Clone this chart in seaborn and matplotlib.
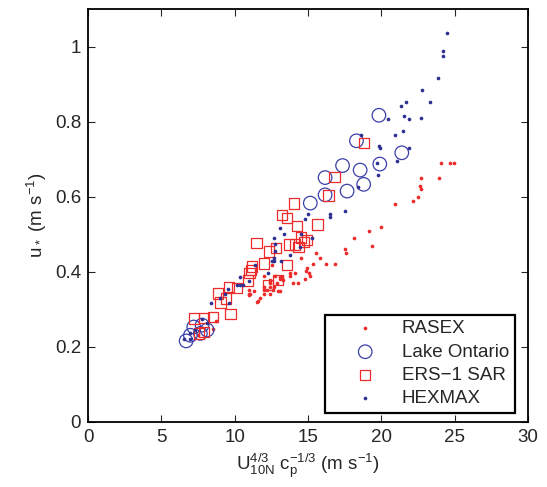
import numpy as np
import pandas as pd
import seaborn as sns
import matplotlib.pyplot as plt

# RASEX (red dots)
rasex_x = [24.08, 24.70, 24.97, 22.72, 23.92, 22.67, 22.72, 22.54, 22.19, 20.95,
           19.99, 19.13, 18.11, 19.38, 17.54, 17.59, 15.57, 15.84, 14.52, 16.25,
           16.86, 15.34, 14.93, 14.89, 15.07, 15.11, 14.82, 14.13, 13.75, 13.79,
           14.29, 13.95, 13.23, 13.11, 12.73, 11.98, 12.38, 13.30, 12.43, 13.11,
           12.89, 12.38, 11.98, 12.66, 12.38, 12.59, 12.93, 13.11, 11.98, 12.21,
           11.98, 12.38, 11.34, 10.95, 11.07, 11.00, 11.70, 11.59, 11.52, 8.75,
           8.53, 7.48, 12.55, 10.95]
rasex_y = [0.690, 0.690, 0.690, 0.650, 0.650, 0.629, 0.620, 0.599, 0.589, 0.580,
           0.520, 0.509, 0.489, 0.468, 0.460, 0.449, 0.449, 0.438, 0.438, 0.420,
           0.420, 0.420, 0.409, 0.403, 0.398, 0.389, 0.380, 0.398, 0.398, 0.389,
           0.369, 0.369, 0.387, 0.387, 0.389, 0.389, 0.376, 0.378, 0.378, 0.380,
           0.371, 0.371, 0.360, 0.360, 0.360, 0.351, 0.349, 0.349, 0.351, 0.351,
           0.341, 0.341, 0.349, 0.341, 0.341, 0.351, 0.329, 0.322, 0.319, 0.269,
           0.249, 0.231, 0.418, 0.338]

# Lake Ontario (open circles)
ontario_x = [19.84, 18.31, 21.40, 17.36, 18.56, 19.90, 16.17, 18.80, 17.67, 16.17,
             15.16, 7.21, 7.78, 8.12, 6.98, 6.69, 7.66]
ontario_y = [0.817, 0.749, 0.717, 0.683, 0.671, 0.687, 0.651, 0.633, 0.615, 0.605,
             0.583, 0.253, 0.258, 0.245, 0.231, 0.216, 0.236]

# ERS-1 SAR (open squares)
ers_x = [18.80, 16.81, 16.40, 14.06, 13.23, 13.57, 14.26, 15.66, 11.48, 12.32,
         12.80, 13.70, 14.13, 14.52, 14.93, 14.75, 14.36, 12.00, 11.20, 11.12,
         11.02, 10.90, 13.57, 12.95, 12.27, 9.59, 10.16, 8.87, 9.03, 9.43,
         9.71, 7.21, 7.89, 8.52, 7.89, 7.55]
ers_y = [0.743, 0.653, 0.603, 0.582, 0.552, 0.544, 0.522, 0.526, 0.476, 0.454,
         0.464, 0.473, 0.473, 0.491, 0.485, 0.479, 0.467, 0.422, 0.414, 0.405,
         0.397, 0.377, 0.418, 0.379, 0.365, 0.360, 0.357, 0.342, 0.318, 0.329,
         0.288, 0.276, 0.277, 0.280, 0.240, 0.236]

# HEXMAX (blue dots)
hexmax_x = [24.47, 24.24, 24.22, 23.85, 22.81, 21.70, 23.31, 21.38, 21.56, 21.90,
            22.74, 21.47, 21.90, 20.49, 20.93, 18.63, 19.84, 19.93, 21.07, 19.68,
            19.77, 18.38, 17.55, 16.47, 16.47, 14.98, 14.81, 13.12, 13.34, 14.50,
            15.25, 12.70, 12.78, 14.45, 12.78, 13.75, 12.68, 12.52, 12.68, 13.17,
            11.41, 12.26, 10.39, 10.95, 10.14, 10.37, 10.59, 9.57, 9.35, 9.03,
            8.41, 9.64, 7.78, 8.12, 7.32, 6.98, 6.53, 6.98]
hexmax_y = [1.037, 0.987, 0.975, 0.917, 0.885, 0.852, 0.852, 0.842, 0.816, 0.806,
            0.811, 0.774, 0.731, 0.806, 0.764, 0.764, 0.735, 0.731, 0.694, 0.689,
            0.659, 0.625, 0.562, 0.554, 0.547, 0.554, 0.540, 0.516, 0.500, 0.500,
            0.491, 0.491, 0.474, 0.466, 0.455, 0.446, 0.437, 0.428, 0.428, 0.428,
            0.418, 0.397, 0.387, 0.376, 0.365, 0.365, 0.365, 0.353, 0.342, 0.329,
            0.316, 0.316, 0.273, 0.264, 0.245, 0.236, 0.222, 0.221]

red = '#ee2b2b'
navy = '#2e3192'
ring = '#3a40a8'

sns.set_style('ticks')
plt.rcParams['font.family'] = ['Liberation Sans', 'DejaVu Sans']
plt.rcParams['mathtext.default'] = 'regular'
plt.rcParams['font.size'] = 13.5
plt.rcParams['axes.linewidth'] = 1.3

fig = plt.figure(figsize=(5.47, 4.87), dpi=100)
ax = fig.add_axes([0.161, 0.1335, 0.804, 0.848])

sns.scatterplot(x=rasex_x, y=rasex_y, ax=ax, marker='o', s=7, color=red,
                edgecolor=red, linewidth=0, label='RASEX')
sns.scatterplot(x=ontario_x, y=ontario_y, ax=ax, marker='o', s=95, color=ring,
                facecolor='none', edgecolor=ring, linewidth=0.9, label='Lake Ontario')
sns.scatterplot(x=ers_x, y=ers_y, ax=ax, marker='s', s=55, color=red,
                facecolor='none', edgecolor=red, linewidth=0.9, label='ERS\u22121 SAR')
sns.scatterplot(x=hexmax_x, y=hexmax_y, ax=ax, marker='o', s=7, color=navy,
                edgecolor=navy, linewidth=0, label='HEXMAX')

ax.set_xlim(0, 30)
ax.set_ylim(0, 1.1)
ax.set_xticks(np.arange(0, 31, 5))
ax.set_yticks([0, 0.2, 0.4, 0.6, 0.8, 1.0])
ax.set_yticklabels(['0', '0.2', '0.4', '0.6', '0.8', '1'])
ax.tick_params(direction='in', top=True, right=True, length=5, width=0.8,
               labelsize=13.5, pad=5)
for sp in ax.spines.values():
    sp.set_visible(True)
    sp.set_color('black')

ax.set_xlabel('U$^{4/3}_{10N}$ c$_p^{-1/3}$ (m s$^{-1}$)', fontsize=13.5)
ax.set_ylabel('u$_*$ (m s$^{-1}$)', fontsize=13.5)

leg = ax.legend(loc='lower right', bbox_to_anchor=(0.970, 0.022), frameon=True,
                fancybox=False, edgecolor='black', framealpha=1, fontsize=13.5,
                labelspacing=0.33, handletextpad=0.1, borderpad=0.3,
                borderaxespad=0, handlelength=3.7, markerscale=1)
leg.get_frame().set_linewidth(1.6)

fig.savefig('out.png', dpi=100)
